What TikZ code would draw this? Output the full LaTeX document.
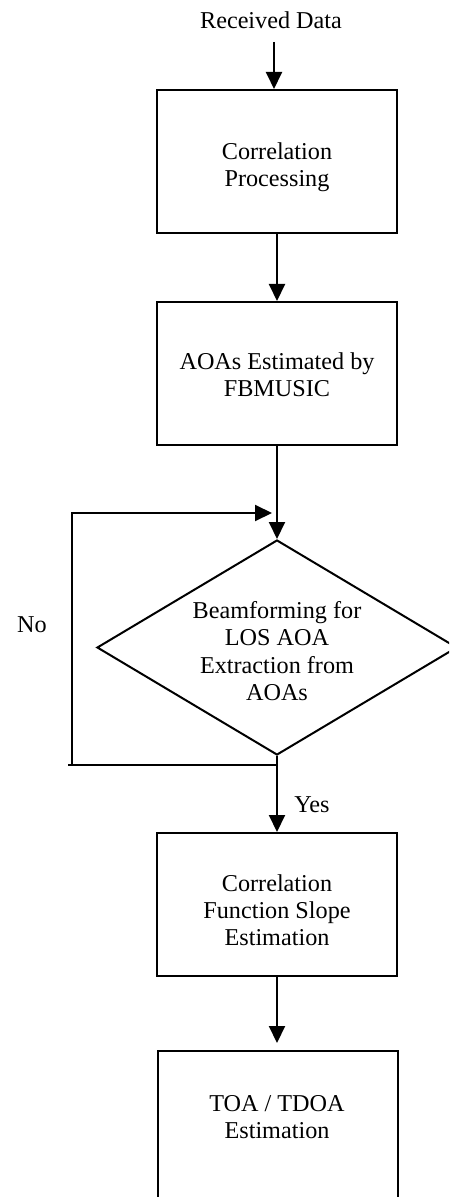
\documentclass[tikz,border=0pt]{standalone}
\usepackage{fontspec}
\setmainfont{Liberation Serif}
\usetikzlibrary{arrows.meta,shapes.geometric}
\begin{document}
\begin{tikzpicture}[x=0.5pt,y=-0.5pt,
  line width=1pt,
  txt/.style={align=center,inner sep=0pt,font=\fontsize{12.1}{13.6}\selectfont},
  stepbox/.style={draw,rectangle,minimum width=120pt,minimum height=71.5pt,inner sep=0pt},
  decision/.style={draw,diamond,minimum width=180pt,minimum height=107.5pt,inner sep=0pt},
  arr/.style={-{Triangle[width=8pt,length=8.5pt]}}]
\useasboundingbox (0,0) rectangle (449,1197);
\clip (0,0) rectangle (449,1197);

% input label
\node[txt] (recv) at (271,20) {Received Data};
\coordinate (in) at (274,42);

% processing boxes
\node[stepbox] (b1) at (277,161.5) {};
\node[txt] (t1) at (277,167) {Correlation\\Processing};

\node[stepbox] (b2) at (277,373.5) {};
\node[txt] (t2) at (277,375) {AOAs Estimated by\\FBMUSIC};

% decision
\node[decision] (dia) at (277,647.5) {};
\node[txt] (t3) at (277,651) {Beamforming for\\LOS AOA\\Extraction from\\AOAs};

\node[stepbox] (b3) at (277,904.5) {};
\node[txt] (t4) at (277,910) {Correlation\\Function Slope\\Estimation};

% last box runs past the lower edge of the page
\node[stepbox,minimum height=80pt] (b4) at (278,1131) {};
\node[txt] (t5) at (277,1117) {TOA / TDOA\\Estimation};

% branch labels
\node[txt] (no) at (32,625) {No};
\node[txt] (yes) at (312,805) {Yes};

% loop-back path
\coordinate (j) at (277,765);
\coordinate (jl) at (68,765);
\coordinate (lb) at (72,765);
\coordinate (lt) at (72,513);
\coordinate (rt) at (272,513);

% connectors
\draw[arr] (in) -- (in |- b1.north);
\draw[arr] (b1.south) -- (b2.north);
\draw[arr] (b2.south) -- (dia.north);
\draw (dia.south) -- (j) -- (jl);
\draw[arr] (lb) -- (lt) -- (rt);
\draw[arr] (j) -- (b3.north);
\draw[arr] (b3.south) -- ([yshift=3.5pt]b3.south |- b4.north);
\end{tikzpicture}
\end{document}
